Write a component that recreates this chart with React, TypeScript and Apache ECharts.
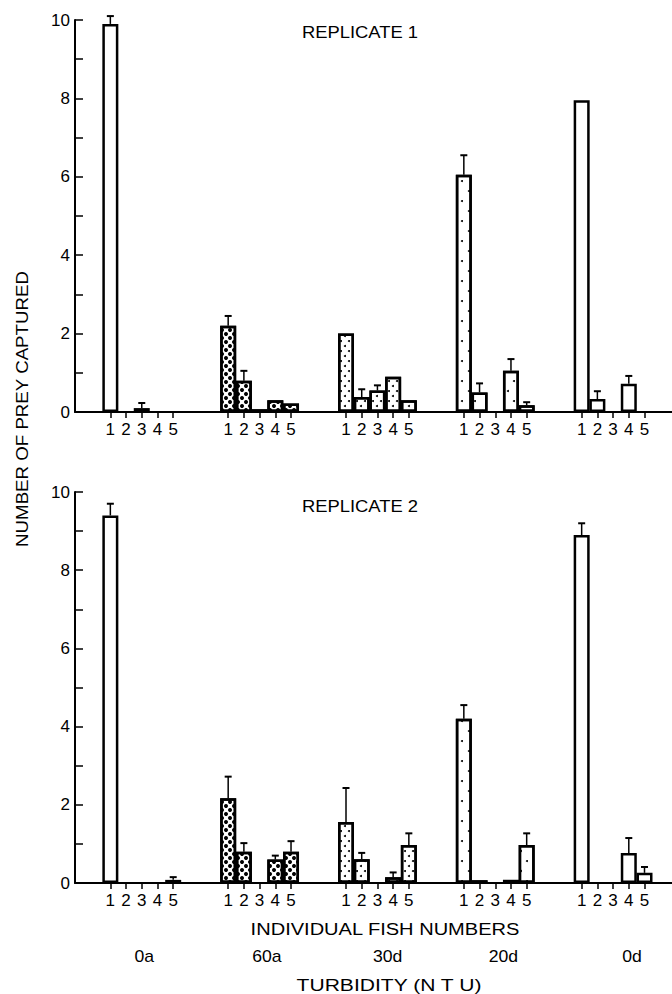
import React, { useEffect, useRef } from "react";
import * as echarts from "echarts";

// ---------- data ----------
const GROUPS = ["0a", "60a", "30d", "20d", "0d"];
const FISH = ["1", "2", "3", "4", "5"];
const Y_TICKS = [0, 2, 4, 6, 8, 10];

// Replicate 1: mean prey captured per fish, per turbidity group
const REP1_VALUES = [
  [9.9, 0, 0.1, 0, 0],
  [2.2, 0.8, 0.07, 0.3, 0.22],
  [2.0, 0.38, 0.55, 0.9, 0.3],
  [6.05, 0.5, 0, 1.05, 0.17],
  [7.95, 0.33, 0, 0.72, 0],
];
const REP1_ERRORS = [
  [0.2, 0, 0.13, 0, 0],
  [0.25, 0.25, 0, 0, 0],
  [0, 0.2, 0.13, 0, 0],
  [0.5, 0.23, 0, 0.3, 0.08],
  [0, 0.2, 0, 0.2, 0],
];
// Replicate 2
const REP2_VALUES = [
  [9.4, 0, 0, 0, 0.08],
  [2.17, 0.8, 0, 0.6, 0.8],
  [1.56, 0.61, 0, 0.15, 0.97],
  [4.2, 0.07, 0, 0.08, 0.97],
  [8.9, 0, 0, 0.77, 0.26],
];
const REP2_ERRORS = [
  [0.3, 0, 0, 0, 0.07],
  [0.55, 0.22, 0, 0.1, 0.27],
  [0.87, 0.16, 0, 0.12, 0.3],
  [0.35, 0, 0, 0, 0.3],
  [0.3, 0, 0, 0.38, 0.15],
];

// ---------- layout ----------
const W = 672;
const H = 994;
const N_SLOTS = 76;
const FIRST_SLOT = 4;
const GROUP_STEP = 15;
const FISH_STEP = 2;
const GRID_LEFT = 75;
const SLOT_W = 7.912;
const GRID_WIDTH = N_SLOTS * SLOT_W;
const FONT = "Liberation Sans, Arial, sans-serif";

const slotOf = (g: number, f: number) => FIRST_SLOT + GROUP_STEP * g + FISH_STEP * f;
const slotX = (s: number) => GRID_LEFT + (s + 0.5) * SLOT_W;

const categories: string[] = [];
const slotLabel: Record<number, string> = {};
for (let i = 0; i < N_SLOTS; i++) categories.push("s" + i);
GROUPS.forEach((_, g) => FISH.forEach((fl, f) => (slotLabel[slotOf(g, f)] = fl)));

const PATTERNS: any[] = [
  null,
  {
    symbol: "circle",
    symbolSize: 1,
    color: "#000",
    dashArrayX: [[3.8, 3.4], [0, 3.6, 3.8, -0.2]].map((r) => r.map((v) => Math.max(v, 0))),
    dashArrayY: [3.6, 0],
  },
  {
    symbol: "circle",
    symbolSize: 1,
    color: "#000",
    dashArrayX: [[2, 6], [0, 4, 2, 2]],
    dashArrayY: [2, 2.5],
  },
  {
    symbol: "circle",
    symbolSize: 1,
    color: "#000",
    dashArrayX: [[1.6, 10.4], [0, 6, 1.6, 4.4]],
    dashArrayY: [1.6, 7.4],
  },
  null,
];

function barData(values: number[][]) {
  const out: any[] = new Array(N_SLOTS).fill(null);
  values.forEach((row, g) =>
    row.forEach((v, f) => {
      if (v > 0) {
        const style: any = { color: "#fff", borderColor: "#000", borderWidth: 2.5 };
        if (PATTERNS[g]) style.decal = PATTERNS[g];
        out[slotOf(g, f)] = { value: v, itemStyle: style };
      }
    })
  );
  return out;
}

function errData(values: number[][], errors: number[][]) {
  const out: number[][] = [];
  values.forEach((row, g) =>
    row.forEach((v, f) => {
      const e = errors[g][f];
      if (e > 0) out.push([slotOf(g, f), v, e]);
    })
  );
  return out;
}

const renderErr = (params: any, api: any) => {
  const x = api.value(0);
  const v = api.value(1);
  const e = api.value(2);
  const p0 = api.coord([x, v]);
  const p1 = api.coord([x, v + e]);
  return {
    type: "group",
    children: [
      { type: "line", shape: { x1: p0[0], y1: p0[1], x2: p1[0], y2: p1[1] }, style: { stroke: "#000", lineWidth: 1.5 } },
      { type: "line", shape: { x1: p1[0] - 3.5, y1: p1[1], x2: p1[0] + 3.5, y2: p1[1] }, style: { stroke: "#000", lineWidth: 2 } },
    ],
  };
};

function xAxis(gridIndex: number) {
  const isFish = (i: number) => slotLabel[i] !== undefined;
  return {
    type: "category",
    gridIndex,
    data: categories,
    boundaryGap: true,
    axisLine: { lineStyle: { color: "#000", width: 2 } },
    axisTick: { show: true, alignWithLabel: true, length: 6, interval: (i: number) => isFish(i), lineStyle: { color: "#000", width: 1.5 } },
    axisLabel: {
      interval: (i: number) => isFish(i),
      formatter: (_v: string, i: number) => slotLabel[i] ?? "",
      color: "#000",
      fontFamily: FONT,
      fontSize: 17,
      margin: 9,
    },
    splitLine: { show: false },
  };
}

function yAxis(gridIndex: number) {
  return {
    type: "value",
    gridIndex,
    min: 0,
    max: 10,
    interval: 1,
    axisLine: { show: true, lineStyle: { color: "#000", width: 2 } },
    axisTick: { show: true, inside: true, length: 8, lineStyle: { color: "#000", width: 1.5 } },
    axisLabel: {
      formatter: (v: number) => (Y_TICKS.includes(v) ? String(v) : ""),
      color: "#000",
      fontFamily: FONT,
      fontSize: 17,
      margin: 5,
    },
    splitLine: { show: false },
  };
}

function txt(text: string, x: number, y: number, size: number, scaleX = 1, rotation = 0) {
  return {
    type: "text",
    x,
    y,
    rotation,
    scaleX,
    style: {
      text,
      font: `${size}px ${FONT}`,
      fill: "#000",
      align: "center",
      verticalAlign: "middle",
      textAlign: "center",
      textVerticalAlign: "middle",
    },
  };
}

const GROUP_LABEL_OFFSET = [2, 6, 8, 5, 15];

export default function App() {
  const ref = useRef<HTMLDivElement>(null);
  useEffect(() => {
    if (!ref.current) return;
    const chart = echarts.init(ref.current, null, { renderer: "svg" });
    const graphics: any[] = [
      txt("REPLICATE 1", 360, 32, 16, 1.15),
      txt("REPLICATE 2", 360, 506, 16, 1.15),
      txt("NUMBER OF PREY CAPTURED", 22, 409, 17, 1.1, Math.PI / 2),
      txt("INDIVIDUAL FISH NUMBERS", 385, 929, 17, 1.18),
      txt("TURBIDITY (N T U)", 389, 985, 17, 1.24),
    ];
    GROUPS.forEach((gname, g) => {
      graphics.push(txt(gname, slotX(slotOf(g, 2)) + GROUP_LABEL_OFFSET[g], 957, 16, 1.1));
    });
    chart.setOption({
      animation: false,
      backgroundColor: "#fff",
      grid: [
        { left: GRID_LEFT, top: 20, width: GRID_WIDTH, height: 392 },
        { left: GRID_LEFT, top: 492, width: GRID_WIDTH, height: 391 },
      ],
      xAxis: [xAxis(0), xAxis(1)],
      yAxis: [yAxis(0), yAxis(1)],
      series: [
        { type: "bar", xAxisIndex: 0, yAxisIndex: 0, barWidth: 16, data: barData(REP1_VALUES) },
        { type: "bar", xAxisIndex: 1, yAxisIndex: 1, barWidth: 16, data: barData(REP2_VALUES) },
        { type: "custom", xAxisIndex: 0, yAxisIndex: 0, renderItem: renderErr, data: errData(REP1_VALUES, REP1_ERRORS), z: 5 },
        { type: "custom", xAxisIndex: 1, yAxisIndex: 1, renderItem: renderErr, data: errData(REP2_VALUES, REP2_ERRORS), z: 5 },
      ],
      graphic: graphics,
    });
    return () => chart.dispose();
  }, []);
  return <div ref={ref} style={{ position: "absolute", left: 0, top: 0, width: W, height: H }} />;
}
